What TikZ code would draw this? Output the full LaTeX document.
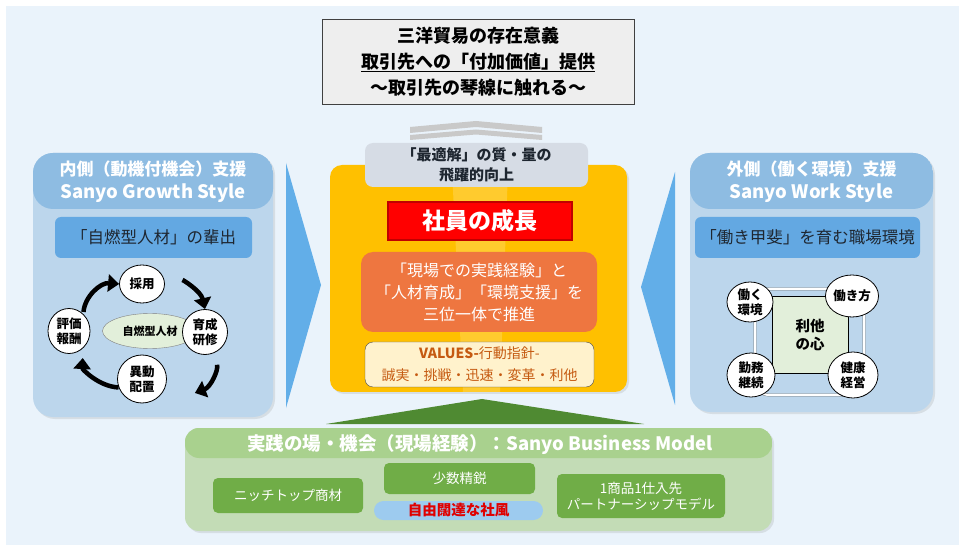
\documentclass[tikz,border=0pt]{standalone}
\usepackage{fontspec}
\setmainfont{Noto Sans CJK JP}
\usepackage{tikz}
\usetikzlibrary{shapes.geometric, arrows.meta, positioning, calc, shadows}
\definecolor{bgblue}{HTML}{EAF3FB}
\definecolor{topgray}{HTML}{EEEEEE}
\definecolor{chevgray}{HTML}{C9C9C9}
\definecolor{optgray}{HTML}{D6DCE5}
\definecolor{coreyellow}{HTML}{FFC000}
\definecolor{growthred}{HTML}{FF0000}
\definecolor{growthdark}{HTML}{C00000}
\definecolor{practiceorange}{HTML}{EE7640}
\definecolor{valuesfill}{HTML}{FFF2CC}
\definecolor{valuestext}{HTML}{C55A11}
\definecolor{panelhead}{HTML}{8EBCE2}
\definecolor{panelbody}{HTML}{BCD6EC}
\definecolor{innerblue}{HTML}{63A8E2}
\definecolor{arrowblue}{HTML}{62AEE8}
\definecolor{darktext}{HTML}{1E2630}
\definecolor{palegreen}{HTML}{E2EFDA}
\definecolor{fieldhead}{HTML}{A9D18E}
\definecolor{fieldbody}{HTML}{C3DCB6}
\definecolor{boxgreen}{HTML}{70AD47}
\definecolor{triangreen}{HTML}{4F8A32}
\definecolor{culturefill}{HTML}{9DCBEF}
\definecolor{culturered}{HTML}{E00000}

\tikzset{
  softshadow/.style={drop shadow={opacity=0.18, shadow xshift=2pt, shadow yshift=-2pt}},
  sidepanel/.style={rounded corners=20pt, fill=panelbody, softshadow,
    path picture={\fill[panelhead] (path picture bounding box.north west) rectangle ([yshift=-56pt]path picture bounding box.north east);}},
  headtext/.style={text=white, align=center, font=\bfseries\fontsize{17}{23}\selectfont},
  bluebox/.style={fill=innerblue, rounded corners=6pt, text=darktext, font=\fontsize{16.5}{20}\selectfont},
  bubble/.style={ellipse, draw=black, line width=0.8pt, fill=white, inner sep=0pt, align=center, font=\bfseries\fontsize{12.5}{15}\selectfont},
  cyclearrow/.style={line width=4.5pt, -{Triangle[length=11pt, width=17pt]}, bend left=45},
  greenbox/.style={fill=boxgreen, rounded corners=5pt, text=white, align=center, font=\fontsize{13.5}{16}\selectfont},
}

\begin{document}
\begin{tikzpicture}[x=1pt, y=-1pt]
\useasboundingbox (0,0) rectangle (959,545);
% background
\fill[bgblue] (6,6) rectangle (959,545);

% purpose box on top
\node[draw=black!75, fill=topgray, minimum width=312pt, minimum height=85pt, align=center,
      font=\bfseries\fontsize{18}{26}\selectfont] (purpose) at (478,61.5)
  {三洋貿易の存在意義\\ \underline{取引先への「付加価値」提供}\\ ～取引先の琴線に触れる～};

% left panel
\node[sidepanel, minimum width=240pt, minimum height=264pt] (inner) at (153,285) {};
\node[headtext] (innerhead) at (153,182) {内側（動機付機会）支援\\ {\fontsize{18.5}{23}\selectfont Sanyo Growth Style}};
\node[bluebox, minimum width=197pt, minimum height=41pt] (selfburn) at (153.5,237.5) {「自燃型人材」の輩出};

% cycle
\node[ellipse, draw=black!50, fill=palegreen, minimum width=95pt, minimum height=35pt, inner sep=0pt,
      font=\bfseries\fontsize{11}{13}\selectfont] (talent) at (150,331) {自燃型人材};
\node[bubble, minimum width=45pt, minimum height=38pt] (hire) at (142,284) {採用};
\node[bubble, minimum width=45pt, minimum height=45pt] (train) at (205,332) {育成\\研修};
\node[bubble, minimum width=49pt, minimum height=48pt] (move) at (142,379) {異動\\配置};
\node[bubble, minimum width=42pt, minimum height=45pt] (eval) at (69,331) {評価\\報酬};
\coordinate (movein) at ([xshift=28pt, yshift=-14pt]move.east);
\draw[cyclearrow, shorten <=2pt] (eval.50) to (hire.west);
\draw[cyclearrow, shorten <=18pt] (hire.east) to (train.north);
\draw[cyclearrow, shorten <=12pt] (train.-70) to (movein);
\draw[cyclearrow, shorten >=10pt] (move.200) to (eval.-50);

% right panel
\node[sidepanel, minimum width=243pt, minimum height=259pt] (outer) at (811.5,282.5) {};
\node[headtext] (outerhead) at (811.5,182) {外側（働く環境）支援\\ {\fontsize{18.5}{23}\selectfont Sanyo Work Style}};
\node[bluebox, minimum width=225pt, minimum height=41pt] (yarigai) at (807.5,237.5) {「働き甲斐」を育む職場環境};

% ring of the work style
\draw[draw=black!55, double=white, double distance=2pt, rounded corners=14pt] (755,289) rectangle (864,395);
\node[draw=black, fill=palegreen, minimum width=76pt, minimum height=77pt, align=center,
      font=\bfseries\fontsize{14.5}{18}\selectfont] (altruism) at (810,334.5) {利他\\の心};
\node[bubble, minimum width=46pt, minimum height=40pt] (env) at (750,302) {働く\\環境};
\node[bubble, minimum width=50pt, minimum height=42pt] (way) at (852,296) {働き方};
\node[bubble, minimum width=48pt, minimum height=44pt] (cont) at (751,375) {勤務\\継続};
\node[bubble, minimum width=50pt, minimum height=46pt] (health) at (853,375) {健康\\経営};

% blue arrows pointing to the centre
\fill[arrowblue] (286,163) -- (321,285) -- (286,408) -- cycle;
\fill[arrowblue] (675,172) -- (641,287) -- (675,405) -- cycle;

% centre box
\node[fill=coreyellow, rounded corners=12pt, minimum width=297pt, minimum height=227pt, softshadow] (core) at (478.5,278.5) {};
\fill[white, opacity=0.18] (452,170) -- (508,170) -- (500,392) -- (463,392) -- cycle;

% gray chevron
\fill[chevgray] (410,127) -- (476,121) -- (542,127) -- (542,133) -- (476,127) -- (410,133) -- cycle;
\fill[chevgray] (410,135) -- (476,129.5) -- (542,135) -- (542,140) -- (476,134.5) -- (410,140) -- cycle;

\node[fill=optgray, rounded corners=8pt, minimum width=223pt, minimum height=44pt, align=center,
      text=darktext, font=\bfseries\fontsize{15}{20}\selectfont] (optimum) at (476.5,165) {「最適解」の質・量の\\飛躍的向上};
\node[fill=growthred, draw=growthdark, line width=1.5pt, minimum width=184pt, minimum height=38pt,
      text=white, font=\bfseries\fontsize{23}{26}\selectfont] (growth) at (480,221) {社員の成長};
\node[fill=practiceorange, rounded corners=12pt, minimum width=236pt, minimum height=80pt, align=center,
      text=white, font=\fontsize{16}{22}\selectfont] (practice) at (479,292)
  {「現場での実践経験」と\\「人材育成」「環境支援」を\\三位一体で推進};
\node[fill=valuesfill, draw=black!70, rounded corners=8pt, minimum width=229pt, minimum height=45pt, align=center,
      text=valuestext, font=\fontsize{14}{22}\selectfont] (values) at (479.5,364.5)
  {\textbf{VALUES-}行動指針-\\誠実・挑戦・迅速・変革・利他};

% green triangle from the field
\fill[triangreen] (326,424) -- (482,399) -- (644,424) -- cycle;

% bottom panel
\node[rounded corners=14pt, fill=fieldbody, minimum width=587pt, minimum height=103pt, softshadow,
      path picture={\fill[fieldhead] (path picture bounding box.north west) rectangle ([yshift=-30pt]path picture bounding box.north east);}]
  (field) at (478.5,479.5) {};
\node[text=white, font=\bfseries\fontsize{18.5}{20}\selectfont] (fieldhead) at (480,445) {実践の場・機会（現場経験）：Sanyo Business Model};
\node[greenbox, minimum width=150pt, minimum height=35pt] (niche) at (288,495.5) {ニッチトップ商材};
\node[greenbox, minimum width=151pt, minimum height=31pt] (elite) at (459.5,478.5) {少数精鋭};
\node[fill=culturefill, rounded corners=9.5pt, minimum width=169pt, minimum height=19pt, inner sep=0pt,
      text=culturered, font=\bfseries\fontsize{14.5}{16}\selectfont] (culture) at (458.5,510.5) {自由闊達な社風};
\node[greenbox, minimum width=168pt, minimum height=44pt] (partner) at (641,496) {1商品1仕入先\\パートナーシップモデル};
\end{tikzpicture}
\end{document}
